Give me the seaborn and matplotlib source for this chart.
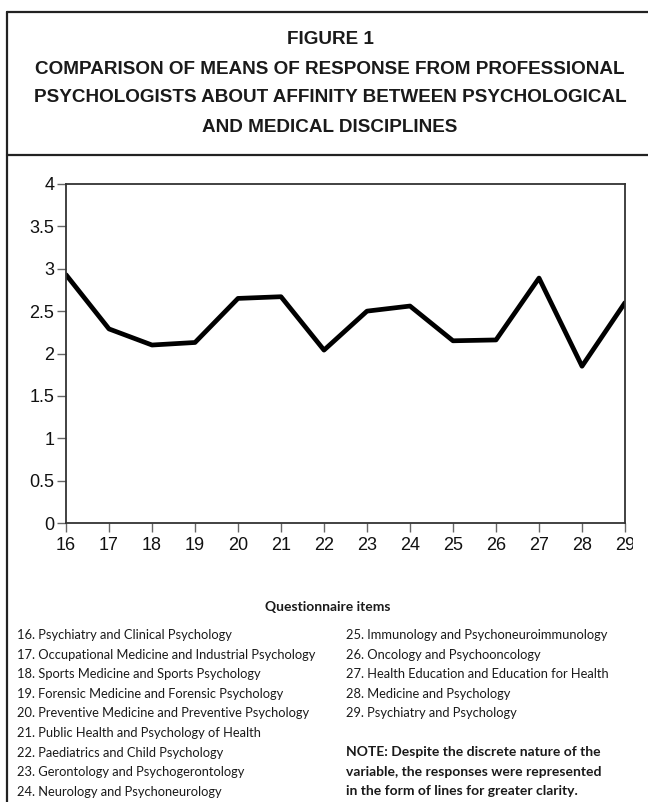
import numpy as np
import pandas as pd
import matplotlib.pyplot as plt
import seaborn as sns
from matplotlib import font_manager
from matplotlib.lines import Line2D
from matplotlib.transforms import Bbox, TransformedBbox

# mean responses per questionnaire item
items = [16, 17, 18, 19, 20, 21, 22, 23, 24, 25, 26, 27, 28, 29]
means = [2.93, 2.29, 2.10, 2.13, 2.65, 2.67, 2.04, 2.50, 2.56, 2.15, 2.16, 2.89, 1.85, 2.60]

y_ticks = [0, 0.5, 1, 1.5, 2, 2.5, 3, 3.5, 4]
y_tick_labels = ["0", "0.5", "1", "1.5", "2", "2.5", "3", "3.5", "4"]

title_lines = [
    "FIGURE 1",
    "COMPARISON OF MEANS OF RESPONSE FROM PROFESSIONAL",
    "PSYCHOLOGISTS ABOUT AFFINITY BETWEEN PSYCHOLOGICAL",
    "AND MEDICAL DISCIPLINES",
]

left_items = [
    "16. Psychiatry and Clinical Psychology",
    "17. Occupational Medicine and Industrial Psychology",
    "18. Sports Medicine and Sports Psychology",
    "19. Forensic Medicine and Forensic Psychology",
    "20. Preventive Medicine and Preventive Psychology",
    "21. Public Health and Psychology of Health",
    "22. Paediatrics and Child Psychology",
    "23. Gerontology and Psychogerontology",
    "24. Neurology and Psychoneurology",
]
right_items = [
    "25. Immunology and Psychoneuroimmunology",
    "26. Oncology and Psychooncology",
    "27. Health Education and Education for Health",
    "28. Medicine and Psychology",
    "29. Psychiatry and Psychology",
]
note_lines = [
    "NOTE: Despite the discrete nature of the",
    "variable, the responses were represented",
    "in the form of lines for greater clarity.",
]

df = pd.DataFrame({"item": items, "mean": means})

sns.set_style("ticks")
plt.rcParams["font.family"] = ["Liberation Sans", "DejaVu Sans"]

# a narrow face for the title if one is installed
installed = {f.name for f in font_manager.fontManager.ttflist}
if "DejaVu Sans Condensed" in installed:
    title_font, title_size = ["DejaVu Sans Condensed"], 14.5
elif "Liberation Sans Narrow" in installed:
    title_font, title_size = ["Liberation Sans Narrow"], 15.5
else:
    title_font, title_size = ["Liberation Sans", "DejaVu Sans"], 13.6

W, H = 648, 802
fig = plt.figure(figsize=(W / 100, H / 100), dpi=100)


def fx(px):
    return px / W


def fy(py):
    return 1 - py / H


# frame around the figure box
frame_kw = dict(color="#222222", linewidth=1.6, transform=fig.transFigure)
fig.add_artist(Line2D([fx(7), 1.0], [fy(12), fy(12)], **frame_kw))
fig.add_artist(Line2D([fx(7), fx(7)], [fy(12), 0.0], **frame_kw))
fig.add_artist(Line2D([fx(7), 1.0], [fy(155), fy(155)], **frame_kw))

# title
for i, line in enumerate(title_lines):
    fig.text(fx(330), fy(40 + i * 29), line, ha="center", va="center",
             fontsize=title_size, fontweight="bold", family=title_font, color="#1a1a1a")

# chart
ax = fig.add_axes([fx(66), fy(523), fx(625) - fx(66), (523 - 184) / H])
sns.lineplot(data=df, x="item", y="mean", color="black", linewidth=3.4, ax=ax)
ax.set_xlim(16, 29)
ax.set_ylim(0, 4)
ax.set_xticks(items)
ax.set_xticklabels([str(i) for i in items])
ax.set_yticks(y_ticks)
ax.set_yticklabels(y_tick_labels)
ax.set_xlabel("")
ax.set_ylabel("")
for s in ax.spines.values():
    s.set_color("#333333")
    s.set_linewidth(1.3)
ax.tick_params(axis="both", length=6.5, width=1, color="#666666",
               labelsize=13, labelcolor="#111111", pad=2)
ax.tick_params(axis="x", pad=3.5)

# last x tick label is cut off in the reference
clip = TransformedBbox(Bbox([[0, 0], [fx(633), 1]]), fig.transFigure)
last = ax.get_xticklabels()[-1]
last.set_clip_on(True)
last.set_clip_box(clip)

# axis title
body_font = ["Lato", "DejaVu Sans"]
fig.text(fx(328), fy(607), "Questionnaire items", ha="center", va="center",
         fontsize=10, fontweight="bold", family=body_font, color="#1a1a1a")

# item legend
for i, line in enumerate(left_items):
    fig.text(fx(17), fy(635 + i * 19.6), line, ha="left", va="center",
             fontsize=9.3, family=body_font, color="#1a1a1a")
for i, line in enumerate(right_items):
    fig.text(fx(346), fy(635 + i * 19.6), line, ha="left", va="center",
             fontsize=9.3, family=body_font, color="#1a1a1a")
for i, line in enumerate(note_lines):
    fig.text(fx(346), fy(752 + i * 19.6), line, ha="left", va="center",
             fontsize=10, fontweight="bold", family=body_font, color="#1a1a1a")

fig.savefig("out.png", dpi=100)
